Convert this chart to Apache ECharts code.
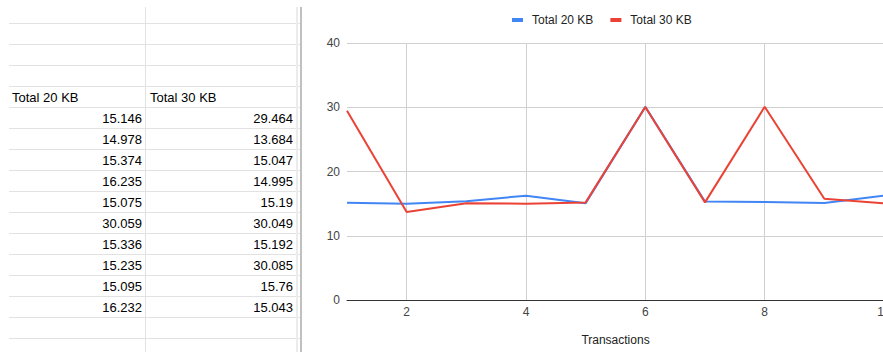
<!DOCTYPE html>
<html>
<head>
<meta charset="utf-8">
<script src="https://cdn.jsdelivr.net/npm/echarts@6/dist/echarts.min.js"></script>
<style>
  html, body { margin: 0; padding: 0; background: #fff; }
  #wrap { position: relative; width: 883px; height: 352px; overflow: hidden; background: #fff; }
  #sheet { position: absolute; left: 0; top: 0; width: 300px; height: 352px; font-family: "Liberation Sans", Arial, sans-serif; font-size: 13px; color: #000; }
  .hl { position: absolute; height: 1px; background: #e2e2e2; }
  .vl { position: absolute; width: 1px; background: #e2e2e2; }
  .cell { position: absolute; height: 20px; line-height: 22px; white-space: nowrap; }
  #chart { position: absolute; left: 302px; top: 0; width: 640px; height: 352px; }
  #divider { position: absolute; left: 300px; top: 7px; width: 2px; height: 345px; background: #c0c0c0; }
</style>
</head>
<body>
<div id="wrap">
  <div id="sheet"></div>
  <div id="divider"></div>
  <div id="chart"></div>
</div>
<script>
// ---- data ----
var transactions = [1, 2, 3, 4, 5, 6, 7, 8, 9, 10];
var seriesNames = ['Total 20 KB', 'Total 30 KB'];
var total20 = [15.146, 14.978, 15.374, 16.235, 15.075, 30.059, 15.336, 15.235, 15.095, 16.232];
var total30 = [29.464, 13.684, 15.047, 14.995, 15.19, 30.049, 15.192, 30.085, 15.76, 15.043];
var yTicks = [0, 10, 20, 30, 40];
var xAxisName = 'Transactions';

// ---- spreadsheet part ----
(function () {
  var sheet = document.getElementById('sheet');
  function add(cls, style, text) {
    var d = document.createElement('div');
    d.className = cls;
    for (var k in style) d.style[k] = style[k];
    if (text !== undefined) d.textContent = text;
    sheet.appendChild(d);
    return d;
  }
  var rowH = 21, firstLine = 23;
  for (var k = 0; k < 16; k++) {
    add('hl', { left: '9px', top: (firstLine + k * rowH) + 'px', width: '291px' });
  }
  add('vl', { left: '145px', top: '7px', height: '345px' });
  add('vl', { left: '296px', top: '7px', height: '345px', width: '2px', background: '#ececec' });
  var headerTop = firstLine + 3 * rowH + 1;
  add('cell', { left: '12px', top: headerTop + 'px' }, seriesNames[0]);
  add('cell', { left: '150px', top: headerTop + 'px' }, seriesNames[1]);
  for (var i = 0; i < total20.length; i++) {
    var t = headerTop + (i + 1) * rowH;
    add('cell', { left: '9px', width: '133px', textAlign: 'right', top: t + 'px' }, String(total20[i]));
    add('cell', { left: '146px', width: '147px', textAlign: 'right', top: t + 'px' }, String(total30[i]));
  }
})();

// ---- chart ----
var chart = echarts.init(document.getElementById('chart'), null, { renderer: 'svg' });
var font = '"Liberation Sans", Arial, sans-serif';
chart.setOption({
  animation: false,
  color: ['#4285F4', '#EA4335'],
  legend: {
    data: seriesNames,
    left: 205,
    top: 9,
    icon: 'rect',
    itemWidth: 11,
    itemHeight: 4,
    itemGap: 17,
    textStyle: { fontFamily: font, fontSize: 12, color: '#222', padding: [0, 0, 0, 4] }
  },
  grid: { left: 45, right: 58, top: 43, bottom: 52, containLabel: false },
  xAxis: {
    type: 'category',
    boundaryGap: false,
    data: transactions.map(String),
    name: xAxisName,
    nameLocation: 'middle',
    nameGap: 34,
    nameTextStyle: { fontFamily: font, fontSize: 12, color: '#222' },
    axisLine: { show: true, lineStyle: { color: '#333', width: 1 } },
    axisTick: { show: false },
    axisLabel: {
      interval: function (idx) { return idx % 2 === 1; },
      margin: 6,
      fontFamily: font, fontSize: 12, color: '#444'
    },
    splitLine: {
      show: true,
      interval: function (idx) { return idx % 2 === 1; },
      lineStyle: { color: '#d0d0d0', width: 1 }
    }
  },
  yAxis: {
    type: 'value',
    min: yTicks[0],
    max: yTicks[yTicks.length - 1],
    interval: yTicks[1] - yTicks[0],
    axisLine: { show: false },
    axisTick: { show: false },
    axisLabel: { margin: 7, fontFamily: font, fontSize: 12, color: '#444' },
    splitLine: { show: true, lineStyle: { color: '#d0d0d0', width: 1 } }
  },
  series: [
    { name: seriesNames[0], type: 'line', data: total20, showSymbol: false, lineStyle: { width: 2 }, z: 2 },
    { name: seriesNames[1], type: 'line', data: total30, showSymbol: false, lineStyle: { width: 2 }, z: 3 }
  ]
});
</script>
</body>
</html>
